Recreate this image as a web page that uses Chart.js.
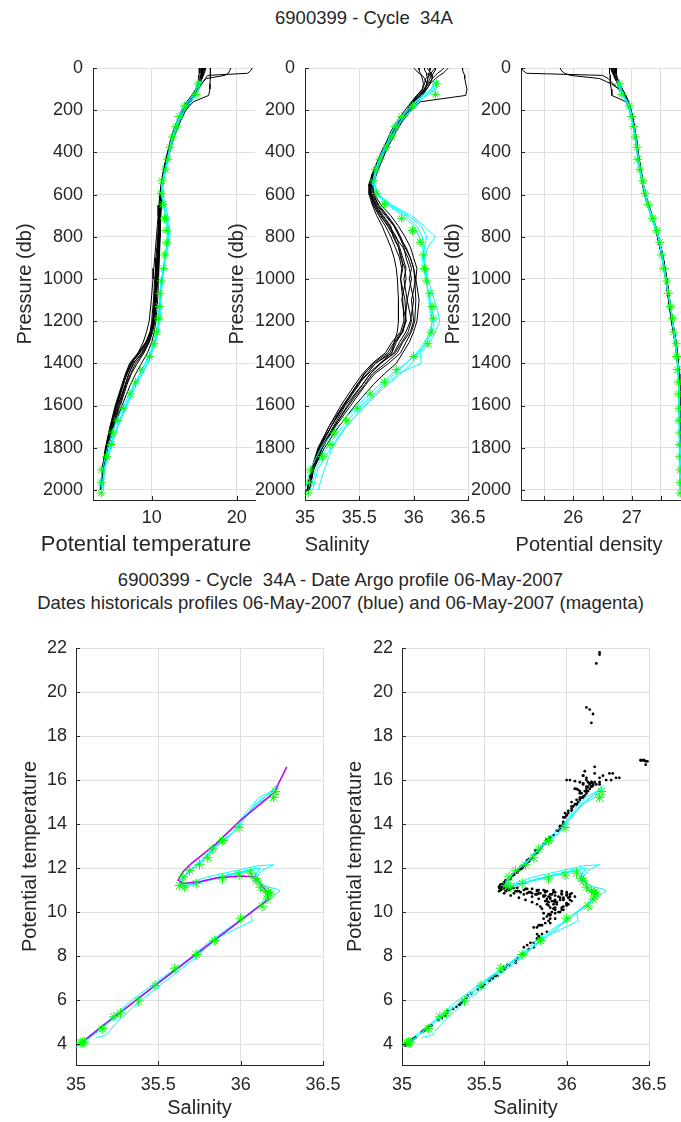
<!DOCTYPE html>
<html><head><meta charset="utf-8">
<script src="https://cdn.jsdelivr.net/npm/chart.js@4.4.1/dist/chart.umd.min.js"></script>
<style>
html,body{margin:0;padding:0;background:#fff;overflow:hidden;width:681px;height:1122px;}
#wrap{position:relative;width:681px;height:1122px;overflow:hidden;background:#fff;}
canvas{position:absolute;}
.t{position:absolute;font-family:'Liberation Sans',Arial,Helvetica,sans-serif;color:#262626;white-space:pre;text-align:center;line-height:23px;font-size:18.5px;}
</style></head>
<body><div id="wrap">
<div class="t" style="left:214px;width:300px;top:6px;">6900399 - Cycle  34A</div>
<div class="t" style="left:0;width:681px;top:568px;">6900399 - Cycle  34A - Date Argo profile 06-May-2007</div>
<div class="t" style="left:0;width:681px;top:591px;">Dates historicals profiles 06-May-2007 (blue) and 06-May-2007 (magenta)</div>
<canvas id="c1" width="272" height="513" style="left:13px;top:44px"></canvas>
<canvas id="c2" width="273" height="513" style="left:225px;top:44px"></canvas>
<canvas id="c3" width="273" height="513" style="left:441px;top:44px"></canvas>
<canvas id="c4" width="335" height="494" style="left:18px;top:626px"></canvas>
<canvas id="c5" width="336" height="494" style="left:343px;top:626px"></canvas>
</div>
<script>
// ---------- Tick labels ----------
const PRESSURE_TICKS = [0,200,400,600,800,1000,1200,1400,1600,1800,2000];
const TEMP_TICKS = [10,20];
const SAL_TICKS = [35,35.5,36,36.5];
const DENS_TICKS = [25.5,26,26.5,27,27.5];
const THETA_TICKS = [4,6,8,10,12,14,16,18,20,22];

// ---------- Argo profile (green stars) ----------
const ARGO_P = [75,125,180,230,278,327,376,433,480,535,594,646,713,770,826,886,950,1010,1068,1131,1186,1252,1307,1368,1430,1489,1545,1613,1670,1730,1785,1843,1905,1966,2015];
const ARGO_T = [15.48,15.21,13.84,13.25,12.86,12.47,12.15,11.88,11.6,11.21,11.13,11.3,11.5,11.68,11.77,11.53,11.41,11.13,10.98,10.9,10.82,10.59,10.27,9.72,8.71,8.07,7.45,6.66,5.95,5.41,5.24,4.7,4.1,4.08,4.06];
const ARGO_S = [36.21,36.2,35.99,35.89,35.83,35.8,35.75,35.69,35.65,35.63,35.66,35.73,35.89,35.99,36.06,36.09,36.1,36.12,36.15,36.17,36.18,36.16,36.13,36.0,35.84,35.73,35.6,35.48,35.38,35.27,35.23,35.16,35.05,35.04,35.03];
const ARGO_D = [26.79,26.83,26.96,27.0,27.03,27.06,27.09,27.1,27.14,27.19,27.23,27.28,27.36,27.43,27.48,27.51,27.55,27.6,27.63,27.66,27.7,27.72,27.76,27.77,27.78,27.8,27.8,27.81,27.81,27.82,27.82,27.82,27.83,27.83,27.83];

// ---------- Magenta reference curve (theta/S) ----------
const MAG_S = [35.04,35.2,35.4,35.6,35.8,36.0,36.12,36.17,36.16,36.13,36.08,36.0,35.85,35.75,35.65,35.62,35.65,35.7,35.85,36.0,36.21,36.23,36.28];
const MAG_T = [4.1,5.05,6.2,7.35,8.5,9.62,10.3,10.6,10.92,11.18,11.6,11.64,11.55,11.38,11.3,11.45,11.83,12.2,13.1,14.18,15.47,15.85,16.6];

// ---------- Historical profiles (black) ----------
const HIST_P = [0,10,25,35,50,75,100,130,160,200,250,300,350,400,450,500,550,600,650,700,750,800,850,900,950,1000,1100,1200,1250,1300,1350,1400,1450,1500,1600,1700,1800,1900,2000];
const H1_T = [21.8,21.7,21.3,16.6,16.3,15.9,15.5,15.1,14.6,14.0,13.4,12.9,12.45,12.1,11.8,11.5,11.3,11.15,11.1,11.05,11.0,10.95,10.9,10.85,10.8,10.7,10.55,10.35,10.1,9.7,9.0,8.1,7.5,7.0,6.2,5.4,4.75,4.3,4.02];
const H1_S = [36.2,36.2,36.18,36.17,36.17,36.15,36.12,36.08,36.03,35.98,35.9,35.84,35.79,35.74,35.69,35.65,35.62,35.63,35.68,35.76,35.83,35.88,35.92,35.97,36.0,36.02,35.98,36.0,35.97,35.9,35.85,35.74,35.62,35.55,35.4,35.27,35.16,35.08,35.04];
const H1_D = [25.12,25.13,25.2,26.5,26.6,26.68,26.8,26.87,26.92,26.97,27.01,27.04,27.07,27.1,27.13,27.16,27.19,27.23,27.28,27.34,27.4,27.45,27.5,27.54,27.57,27.6,27.65,27.7,27.73,27.76,27.78,27.8,27.81,27.82,27.83,27.83,27.84,27.84,27.84];
const H2_T = [19.3,19.2,19.0,18.6,16.4,15.8,15.4,15.0,14.5,13.9,13.3,12.8,12.35,12.05,11.75,11.45,11.25,11.1,11.05,10.95,10.9,10.85,10.75,10.65,10.55,10.5,10.35,10.15,9.9,9.4,8.6,7.6,7.1,6.6,5.8,5.2,4.6,4.2,3.95];
const H2_S = [36.12,36.14,36.16,36.15,36.11,36.1,36.08,36.03,35.99,35.96,35.88,35.81,35.76,35.72,35.68,35.64,35.6,35.61,35.65,35.71,35.78,35.84,35.87,35.9,35.93,35.91,35.94,35.92,35.9,35.84,35.8,35.65,35.57,35.48,35.35,35.24,35.13,35.06,35.02];
const H2_D = [25.78,25.79,25.85,25.95,26.45,26.65,26.78,26.86,26.92,26.97,27.01,27.05,27.08,27.1,27.13,27.16,27.19,27.23,27.28,27.34,27.4,27.45,27.49,27.53,27.56,27.59,27.64,27.69,27.72,27.75,27.77,27.79,27.8,27.81,27.82,27.82,27.83,27.83,27.84];
const H3_T = [16.9,16.9,16.9,16.9,16.9,16.85,16.85,16.7,14.9,14.0,13.3,12.8,12.4,12.05,11.75,11.45,11.25,11.1,11.0,10.95,10.85,10.8,10.75,10.7,10.6,10.5,10.35,10.2,9.9,9.3,8.5,7.5,7.0,6.6,5.9,5.2,4.65,4.25,4.0];
const H3_S = [36.45,36.45,36.46,36.47,36.47,36.48,36.49,36.48,36.06,35.98,35.88,35.82,35.77,35.73,35.68,35.63,35.6,35.61,35.64,35.7,35.76,35.82,35.86,35.89,35.9,35.88,35.92,35.93,35.89,35.82,35.76,35.63,35.55,35.48,35.36,35.24,35.14,35.07,35.03];
const H3_D = [26.62,26.62,26.62,26.63,26.63,26.64,26.65,26.66,26.9,26.97,27.01,27.05,27.08,27.1,27.13,27.16,27.19,27.23,27.28,27.34,27.4,27.44,27.48,27.52,27.55,27.58,27.63,27.68,27.71,27.74,27.77,27.79,27.8,27.81,27.82,27.82,27.83,27.83,27.84];
const H4_T = [16.1,16.1,16.0,16.0,15.9,15.7,15.4,15.0,14.5,13.9,13.3,12.75,12.35,12.0,11.7,11.4,11.2,11.05,11.0,10.95,10.9,10.85,10.8,10.7,10.65,10.55,10.4,10.2,9.95,9.5,8.8,7.9,7.3,6.9,6.1,5.4,4.8,4.3,4.0];
const H4_S = [36.32,36.3,36.27,36.24,36.2,36.15,36.12,36.07,36.01,35.97,35.89,35.82,35.77,35.72,35.67,35.63,35.6,35.6,35.63,35.69,35.77,35.83,35.9,35.95,35.98,35.96,36.0,35.97,35.93,35.87,35.82,35.7,35.6,35.53,35.39,35.27,35.16,35.08,35.03];
const H4_D = [26.68,26.68,26.7,26.71,26.73,26.77,26.83,26.88,26.93,26.98,27.02,27.05,27.08,27.1,27.13,27.16,27.19,27.23,27.28,27.34,27.4,27.45,27.5,27.54,27.57,27.6,27.65,27.7,27.73,27.76,27.78,27.8,27.81,27.82,27.82,27.83,27.83,27.84,27.84];
const H5_T = [15.6,15.6,15.6,15.55,15.5,15.4,15.2,14.8,14.3,13.7,13.1,12.6,12.2,11.9,11.6,11.35,11.15,11.0,10.95,10.85,10.8,10.7,10.6,10.5,10.45,10.35,10.2,10.0,9.8,9.3,8.4,7.4,6.9,6.5,5.7,5.1,4.55,4.2,3.95];
const H5_S = [36.05,36.05,36.06,36.07,36.08,36.09,36.08,36.03,35.98,35.94,35.86,35.8,35.75,35.71,35.66,35.62,35.59,35.6,35.63,35.68,35.74,35.79,35.83,35.87,35.89,35.88,35.9,35.91,35.88,35.8,35.74,35.62,35.53,35.46,35.33,35.22,35.12,35.06,35.02];
const H5_D = [26.72,26.72,26.73,26.74,26.76,26.79,26.84,26.89,26.94,26.99,27.03,27.06,27.09,27.11,27.14,27.17,27.2,27.24,27.29,27.35,27.41,27.46,27.5,27.54,27.57,27.6,27.65,27.7,27.73,27.76,27.78,27.8,27.81,27.82,27.83,27.83,27.84,27.84,27.84];
const H6_T = [16.2,16.2,16.1,16.0,15.9,15.7,15.5,15.1,14.6,13.9,13.3,12.8,12.4,12.1,11.8,11.5,11.3,11.15,11.1,11.05,11.0,10.95,10.9,10.8,10.75,10.65,10.55,10.35,10.1,9.7,9.1,8.3,7.6,7.1,6.3,5.5,4.8,4.3,4.05];
const H6_S = [36.1,36.1,36.12,36.12,36.13,36.12,36.11,36.06,36.01,35.96,35.89,35.83,35.78,35.74,35.7,35.66,35.63,35.63,35.67,35.75,35.82,35.87,35.93,35.97,36.0,36.01,36.02,36.01,35.98,35.93,35.88,35.77,35.64,35.56,35.42,35.28,35.16,35.08,35.04];
const H6_D = [26.66,26.66,26.68,26.7,26.72,26.76,26.81,26.86,26.91,26.97,27.01,27.04,27.07,27.09,27.12,27.15,27.18,27.22,27.27,27.33,27.39,27.44,27.48,27.52,27.55,27.58,27.63,27.68,27.71,27.74,27.76,27.78,27.8,27.81,27.82,27.82,27.83,27.83,27.84];
const H7_T = [15.8,15.8,15.8,15.75,15.7,15.5,15.2,14.8,14.3,13.7,13.1,12.65,12.25,11.95,11.65,11.4,11.2,11.05,11.0,10.9,10.85,10.8,10.7,10.6,10.5,10.45,10.3,10.1,9.85,9.4,8.6,7.6,7.0,6.7,5.9,5.2,4.6,4.2,3.98];
const H7_S = [36.2,36.18,36.16,36.16,36.15,36.13,36.1,36.04,35.99,35.95,35.87,35.81,35.76,35.72,35.67,35.63,35.6,35.61,35.65,35.72,35.79,35.81,35.86,35.88,35.92,35.93,35.89,35.93,35.9,35.83,35.78,35.65,35.54,35.5,35.36,35.24,35.13,35.06,35.02];
const H7_D = [26.74,26.74,26.74,26.74,26.75,26.78,26.83,26.88,26.93,26.98,27.02,27.05,27.08,27.1,27.13,27.16,27.19,27.23,27.28,27.34,27.4,27.45,27.49,27.53,27.56,27.59,27.64,27.69,27.72,27.75,27.77,27.79,27.8,27.81,27.82,27.82,27.83,27.83,27.84];
const H8_T = [16.0,16.0,15.95,15.9,15.85,15.6,15.3,14.9,14.4,13.8,13.2,12.7,12.3,12.0,11.7,11.45,11.25,11.1,11.05,11.0,10.95,10.9,10.8,10.75,10.65,10.6,10.45,10.25,10.0,9.6,8.9,7.8,7.3,6.9,6.0,5.3,4.7,4.25,4.0];
const H8_S = [36.0,36.02,36.05,36.08,36.1,36.12,36.11,36.06,36.0,35.96,35.88,35.82,35.77,35.73,35.68,35.64,35.61,35.62,35.66,35.74,35.82,35.87,35.91,35.93,35.96,35.98,35.94,35.98,35.95,35.89,35.83,35.69,35.6,35.53,35.37,35.26,35.15,35.07,35.03];
const H8_D = [26.64,26.65,26.67,26.69,26.71,26.76,26.82,26.87,26.92,26.98,27.02,27.05,27.08,27.1,27.13,27.16,27.19,27.23,27.28,27.34,27.4,27.45,27.49,27.53,27.56,27.59,27.64,27.69,27.72,27.75,27.77,27.79,27.8,27.81,27.82,27.82,27.83,27.83,27.84];
const H9_T = [15.9,15.9,15.85,15.8,15.7,15.5,15.25,14.9,14.4,13.8,13.2,12.7,12.3,12.0,11.7,11.45,11.25,11.12,11.1,11.05,11.0,11.0,10.95,10.9,10.85,10.8,10.7,10.5,10.3,10.0,9.5,8.8,8.1,7.5,6.5,5.6,4.85,4.3,4.02];
const H9_S = [36.15,36.15,36.14,36.14,36.13,36.12,36.1,36.05,36.0,35.96,35.88,35.82,35.77,35.73,35.68,35.64,35.62,35.64,35.7,35.79,35.86,35.92,35.97,36.0,36.03,36.02,36.05,36.03,36.0,35.96,35.9,35.84,35.73,35.63,35.46,35.31,35.18,35.08,35.04];
const H9_D = [26.7,26.7,26.71,26.72,26.74,26.78,26.83,26.88,26.93,26.98,27.02,27.05,27.08,27.1,27.13,27.16,27.19,27.23,27.28,27.34,27.4,27.45,27.49,27.53,27.56,27.59,27.64,27.69,27.72,27.75,27.77,27.79,27.8,27.81,27.82,27.82,27.83,27.83,27.84];
const H10_T = [16.3,16.3,16.2,16.1,15.9,15.6,15.2,14.7,14.1,13.5,13.0,12.5,12.15,11.85,11.55,11.3,11.1,10.95,10.85,10.75,10.65,10.55,10.45,10.35,10.25,10.15,9.95,9.7,9.4,9.0,8.4,7.7,7.1,6.6,5.8,5.1,4.6,4.2,3.96];
const H10_S = [36.28,36.26,36.22,36.2,36.17,36.14,36.09,36.03,35.98,35.92,35.85,35.79,35.75,35.7,35.66,35.62,35.59,35.59,35.62,35.66,35.71,35.75,35.79,35.82,35.84,35.85,35.86,35.86,35.85,35.82,35.8,35.69,35.58,35.49,35.35,35.22,35.13,35.06,35.02];
const H10_D = [26.66,26.67,26.69,26.7,26.73,26.78,26.84,26.9,26.95,26.99,27.03,27.06,27.09,27.11,27.14,27.17,27.2,27.24,27.29,27.35,27.41,27.46,27.5,27.54,27.57,27.6,27.65,27.7,27.73,27.76,27.78,27.8,27.81,27.82,27.82,27.83,27.83,27.84,27.84];

// ---------- Historical profiles (cyan) ----------
const CYAN_P = [60,100,130,160,200,250,300,350,400,450,500,550,600,650,700,750,800,850,900,950,1000,1050,1100,1150,1200,1250,1300,1350,1400,1450,1500,1600,1700,1800,1900,2000];
const C1_T = [15.7,15.5,15.1,14.5,13.8,13.2,12.8,12.4,12.1,11.85,11.55,11.3,11.3,11.6,11.9,12.1,12.15,11.9,11.6,11.45,11.3,11.15,11.05,10.95,10.85,10.65,10.35,9.95,9.5,8.9,8.2,7.1,6.0,5.2,4.5,4.2];
const C1_S = [36.23,36.2,36.12,36.05,35.98,35.89,35.83,35.78,35.73,35.69,35.65,35.64,35.68,35.8,35.98,36.1,36.2,36.13,36.1,36.11,36.12,36.13,36.14,36.15,36.17,36.16,36.12,36.05,35.98,35.88,35.76,35.56,35.37,35.24,35.12,35.07];
const C1_D = [26.76,26.8,26.85,26.91,26.97,27.0,27.04,27.07,27.09,27.12,27.15,27.19,27.23,27.27,27.33,27.39,27.45,27.49,27.52,27.55,27.58,27.61,27.64,27.67,27.69,27.72,27.74,27.76,27.78,27.79,27.8,27.81,27.82,27.82,27.83,27.83];
const C2_T = [15.6,15.3,14.8,14.2,13.5,13.0,12.6,12.25,12.0,11.75,11.45,11.25,11.2,11.4,11.7,11.85,11.9,11.75,11.55,11.4,11.25,11.15,11.1,11.05,10.97,10.75,10.45,10.0,9.6,8.8,8.0,6.9,5.9,5.0,4.4,4.3];
const C2_S = [36.2,36.16,36.08,36.01,35.94,35.85,35.8,35.76,35.71,35.67,35.64,35.63,35.67,35.78,35.93,36.03,36.08,36.1,36.09,36.11,36.13,36.16,36.19,36.22,36.24,36.2,36.15,36.06,36.07,35.85,35.74,35.55,35.38,35.25,35.18,35.12];
const C2_D = [26.78,26.82,26.87,26.93,26.98,27.01,27.05,27.08,27.1,27.13,27.16,27.2,27.24,27.28,27.34,27.4,27.46,27.5,27.53,27.56,27.59,27.62,27.65,27.68,27.7,27.72,27.75,27.77,27.78,27.79,27.8,27.81,27.81,27.82,27.82,27.83];
const C3_T = [15.4,15.2,14.9,14.3,13.6,13.1,12.65,12.3,12.0,11.75,11.45,11.2,11.15,11.35,11.6,11.8,11.85,11.7,11.5,11.35,11.15,11.0,10.9,10.85,10.75,10.5,10.2,9.8,9.2,8.6,8.0,7.0,6.0,5.1,4.4,4.1];
const C3_S = [36.19,36.17,36.09,36.02,35.95,35.86,35.8,35.76,35.71,35.67,35.64,35.62,35.66,35.76,35.9,36.0,36.05,36.08,36.1,36.11,36.12,36.13,36.15,36.16,36.17,36.15,36.1,36.03,35.93,35.82,35.72,35.52,35.34,35.2,35.1,35.05];
const C3_D = [26.79,26.82,26.86,26.92,26.98,27.01,27.05,27.08,27.1,27.13,27.16,27.2,27.24,27.28,27.35,27.41,27.46,27.5,27.53,27.56,27.59,27.62,27.65,27.68,27.7,27.73,27.75,27.77,27.79,27.8,27.8,27.81,27.82,27.82,27.83,27.83];
const C4_T = [15.8,15.5,15.2,14.6,13.9,13.3,12.8,12.4,12.1,11.8,11.5,11.25,11.2,11.45,11.75,11.95,12.0,11.8,11.55,11.35,11.2,11.1,11.0,10.92,10.85,10.65,10.3,9.85,9.3,8.6,7.9,6.7,5.6,4.8,4.2,3.85];
const C4_S = [36.22,36.19,36.11,36.04,35.97,35.88,35.82,35.77,35.72,35.68,35.65,35.63,35.67,35.79,35.95,36.07,36.12,36.1,36.08,36.09,36.11,36.13,36.15,36.17,36.19,36.17,36.12,36.04,35.93,35.8,35.69,35.48,35.3,35.15,35.05,35.0];
const C4_D = [26.75,26.79,26.84,26.9,26.96,27.0,27.04,27.07,27.09,27.12,27.15,27.19,27.23,27.27,27.33,27.39,27.45,27.49,27.52,27.55,27.58,27.61,27.64,27.67,27.7,27.72,27.75,27.77,27.79,27.8,27.81,27.82,27.82,27.83,27.83,27.84];

const HIST = [[H1_T,H1_S,H1_D],[H2_T,H2_S,H2_D],[H3_T,H3_S,H3_D],[H4_T,H4_S,H4_D],[H5_T,H5_S,H5_D],[H6_T,H6_S,H6_D],[H7_T,H7_S,H7_D],[H8_T,H8_S,H8_D],[H9_T,H9_S,H9_D],[H10_T,H10_S,H10_D]];
const CYAN = [[C1_T,C1_S,C1_D],[C2_T,C2_S,C2_D],[C3_T,C3_S,C3_D],[C4_T,C4_S,C4_D]];

// ---------- Chart building ----------
const FONT = "'Liberation Sans', Arial, Helvetica, sans-serif";
Chart.defaults.font.family = FONT;
Chart.defaults.color = '#262626';
const INK = '#262626', GRID = '#dfdfdf';
const zip = (xs, ys) => xs.map((x, i) => ({x: x, y: ys[i]}));
const lineDs = (data, color, w) => ({data, showLine:true, borderColor:color, backgroundColor:color, borderWidth:w, pointRadius:0, tension:0, fill:false});
const starDs = (data, r) => ({data, showLine:false, pointStyle:'star', pointRadius:r, borderColor:'#00ff00', backgroundColor:'#00ff00', borderWidth:1, clip:false});
const dotDs = (data) => ({data, showLine:false, pointStyle:'circle', pointRadius:1.4, borderWidth:0, backgroundColor:'#000000', borderColor:'#000000'});

const innerTicks = {
  id:'innerTicks',
  afterDraw(chart){
    const {ctx, chartArea:a, scales} = chart;
    ctx.save(); ctx.strokeStyle = INK; ctx.lineWidth = 1;
    Object.values(scales).forEach(s => {
      s.ticks.forEach(t => {
        const p = Math.round(s.getPixelForValue(t.value)) + 0.5;
        ctx.beginPath();
        if (s.isHorizontal()) { ctx.moveTo(p, a.bottom); ctx.lineTo(p, a.bottom - 4); }
        else { ctx.moveTo(a.left, p); ctx.lineTo(a.left + 4, p); }
        ctx.stroke();
      });
    });
    ctx.restore();
  }
};
// x-axis title drawn without width limit (it may be wider than the plot)
const xTitle = {
  id:'xTitle',
  afterDraw(chart, args, o){
    const s = chart.scales.x, ctx = chart.ctx;
    const cx = (o.cx == null) ? (chart.chartArea.left + chart.chartArea.right) / 2 : o.cx;
    ctx.save(); ctx.fillStyle = INK; ctx.font = o.size + 'px ' + FONT;
    ctx.textAlign = 'center'; ctx.textBaseline = 'middle';
    ctx.fillText(o.text, cx, s.bottom - 12);
    ctx.restore();
  }
};

function makeChart(id, datasets, cfg){
  new Chart(document.getElementById(id), {
    type:'scatter',
    data:{datasets},
    options:{
      responsive:false, animation:false, events:[],
      layout:{padding:{top:cfg.padTop, right:30, bottom:0, left:0}},
      plugins:{legend:{display:false}, tooltip:{enabled:false}, title:{display:false},
               xTitle:{text:cfg.xTitle, cx:cfg.xTitleX, size:cfg.xTitleSize || 20}},
      scales:{
        x:{type:'linear', position:'bottom', min:cfg.xMin, max:cfg.xMax,
           afterBuildTicks: s => { s.ticks = cfg.xTicks.map(v => ({value:v})); },
           afterFit: s => { s.height = cfg.xH; },
           ticks:{padding:cfg.xPad, font:{size:18}, color:INK, maxRotation:0, autoSkip:false, callback: cfg.xLabel},
           grid:{color:GRID, drawTicks:false, lineWidth:1},
           border:{display:true, color:INK, width:1},
           title:{display:false}},
        y:{type:'linear', position:'left', min:cfg.yMin, max:cfg.yMax, reverse:cfg.yRev,
           afterBuildTicks: s => { s.ticks = cfg.yTicks.map(v => ({value:v})); },
           afterFit: s => { s.width = cfg.yW; },
           ticks:{padding:cfg.yPad, font:{size:18}, color:INK, autoSkip:false, callback: v => String(v)},
           grid:{color:GRID, drawTicks:false, lineWidth:1},
           border:{display:true, color:INK, width:1},
           title:{display:true, text:cfg.yTitle, font:{size:20}, color:INK, padding:0}}
      }
    },
    plugins:[innerTicks, xTitle]
  });
}

function profileSets(varIdx, argoX){
  const ds = [starDs(zip(argoX, ARGO_P), 4.5)];
  CYAN.forEach(c => ds.push(lineDs(zip(c[varIdx], CYAN_P), '#00ffff', 1)));
  HIST.forEach(h => ds.push(lineDs(zip(h[varIdx], HIST_P), '#000000', 1)));
  return ds;
}
const topBase = {padTop:24, xH:57, xPad:7, yMin:0, yMax:2048, yRev:true, yTicks:PRESSURE_TICKS, yW:80, yPad:10, yTitle:'Pressure (db)'};

// x-title centres are given in canvas coordinates
makeChart('c1', profileSets(0, ARGO_T), Object.assign({}, topBase, {xMin:3.09, xMax:22.15, xTicks:TEMP_TICKS, xLabel:v => String(v), xTitle:'Potential temperature', xTitleX:133, xTitleSize:22}));
makeChart('c2', profileSets(1, ARGO_S), Object.assign({}, topBase, {xMin:35, xMax:36.5, xTicks:SAL_TICKS, xLabel:v => String(v), xTitle:'Salinity', xTitleX:112}));
makeChart('c3', profileSets(2, ARGO_D), Object.assign({}, topBase, {xMin:25.105, xMax:27.895, xTicks:DENS_TICKS, xLabel:v => (Number.isInteger(v) ? String(v) : ''), xTitle:'Potential density', xTitleX:148}));

const botBase = {padTop:22, xH:55, xPad:9, xMin:35, xMax:36.5, xTicks:SAL_TICKS, xLabel:v => String(v), xTitle:'Salinity', yMin:3.05, yMax:22, yRev:false, yTicks:THETA_TICKS, yPad:9, yTitle:'Potential temperature'};

const leftTS = [starDs(zip(ARGO_S, ARGO_T), 5), lineDs(zip(MAG_S, MAG_T), '#c000ff', 1.5)];
CYAN.forEach(c => leftTS.push(lineDs(zip(c[1], c[0]), '#00ffff', 1)));
makeChart('c4', leftTS, Object.assign({}, botBase, {yW:58}));

const rightTS = [starDs(zip(ARGO_S, ARGO_T), 5)];
CYAN.forEach(c => rightTS.push(lineDs(zip(c[1], c[0]), '#00ffff', 1)));
const blackDots = [];
HIST.forEach(h => h[0].forEach((t, i) => blackDots.push({x:h[1][i], y:t})));
rightTS.push(dotDs(blackDots));
makeChart('c5', rightTS, Object.assign({}, botBase, {yW:59}));
</script>
</body></html>
